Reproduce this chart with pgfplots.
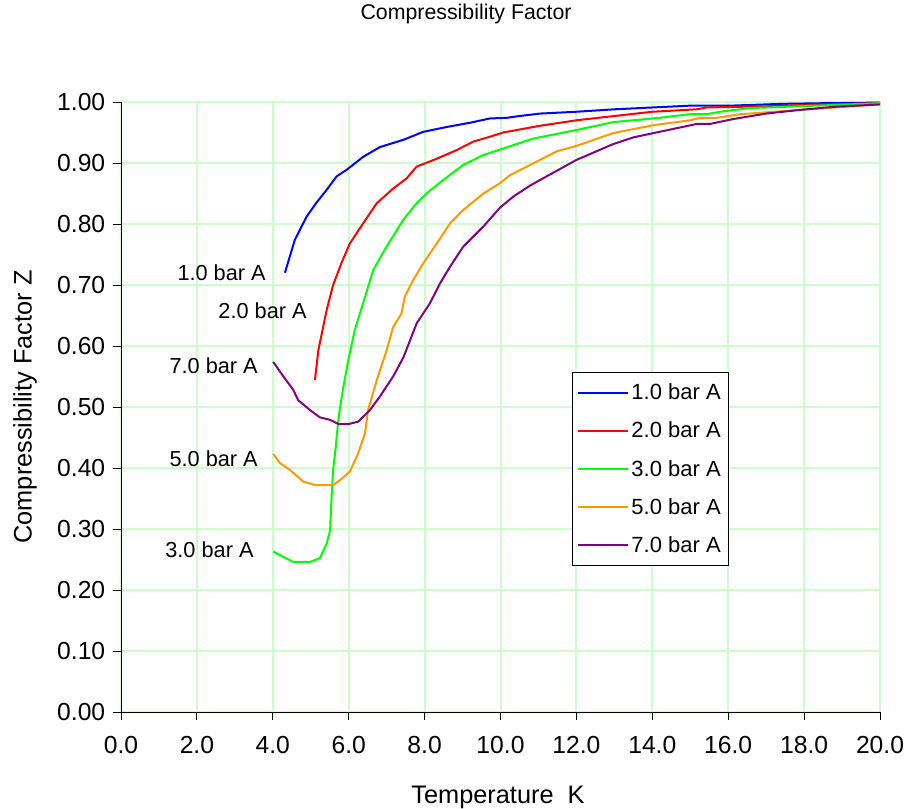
\documentclass[border=0pt]{standalone}
\usepackage{pgfplots}
\pgfplotsset{compat=1.18}
\usepackage{fontspec}
\setmainfont{Liberation Sans}
\definecolor{gridgreen}{RGB}{204,255,204}
\definecolor{cblue}{RGB}{0,0,255}
\definecolor{cred}{RGB}{255,0,0}
\definecolor{cgreen}{RGB}{0,255,0}
\definecolor{corange}{RGB}{255,153,0}
\definecolor{cpurple}{RGB}{128,0,128}
\begin{document}
\begin{tikzpicture}
\useasboundingbox (-90.75pt,-72.75pt) rectangle (591pt,534pt);
\begin{axis}[
  scale only axis,
  width=569.25pt, height=457.5pt,
  xmin=0, xmax=20, ymin=0, ymax=1,
  xtick={0,2,...,20}, ytick={0,0.1,...,1.0},
  grid=major,
  major grid style={gridgreen, line width=1.5pt},
  axis lines*=left,
  axis line style={black, line width=0.7pt},
  tick align=outside,
  major tick length=6pt,
  tick style={black, line width=0.7pt},
  /pgf/number format/assume math mode=true,
  xticklabel style={font=\fontsize{18.5}{20}\selectfont, yshift=-9pt, /pgf/number format/.cd, fixed, fixed zerofill, precision=1},
  yticklabel style={font=\fontsize{18.5}{20}\selectfont, xshift=-2.3pt, /pgf/number format/.cd, fixed, fixed zerofill, precision=2},
  xlabel={Temperature\ \ K},
  ylabel={Compressibility Factor Z},
  xlabel style={font=\fontsize{19}{22}\selectfont, at={(axis description cs:0.4967,0)}, anchor=center, yshift=-64pt},
  ylabel style={font=\fontsize{19}{22}\selectfont, at={(axis description cs:-0.1265,0.5)}, anchor=center},
  title={Compressibility Factor},
  title style={font=\fontsize{16}{18}\selectfont, at={(axis description cs:0.4546,1)}, anchor=center, yshift=60pt},
  legend style={at={(axis cs:11.876,0.5569)}, anchor=north west, draw=black, line width=0.7pt, font=\fontsize{16.5}{18}\selectfont, row sep=11.2pt, inner xsep=4pt, inner ysep=6.2pt},
  legend cell align=left,
  legend image code/.code={\draw[#1, line width=1.5pt] (0cm,0cm) -- (1.3cm,0cm);},
  every axis plot/.append style={line width=1.5pt},
  clip=false,
]
\addplot[cblue] coordinates {
(4.32,0.720) (4.58,0.774) (4.89,0.812) (5.15,0.835) (5.42,0.856) (5.68,0.878) (5.95,0.889)
(6.38,0.910) (6.82,0.926) (7.44,0.938) (7.96,0.951) (8.58,0.959) (9.20,0.966) (9.72,0.973)
(10.16,0.974) (10.5,0.977) (11.04,0.981) (12.0,0.984) (13.0,0.988) (14.0,0.991) (15.0,0.994)
(16.05,0.994) (17.45,0.997) (18.5,0.998) (20.0,0.999)};
\addlegendentry{1.0 bar A}
\addplot[cred] coordinates {
(5.11,0.544) (5.20,0.593) (5.42,0.659) (5.59,0.700) (5.81,0.736) (6.03,0.768) (6.38,0.801)
(6.74,0.834) (7.17,0.858) (7.53,0.875) (7.79,0.894) (8.32,0.907) (8.84,0.921) (9.28,0.935)
(9.72,0.943) (10.07,0.950) (10.6,0.956) (11.04,0.961) (12.0,0.970) (13.0,0.977) (14.0,0.984)
(15.17,0.988) (15.43,0.991) (17.0,0.993) (18.5,0.996) (20.0,0.998)};
\addlegendentry{2.0 bar A}
\addplot[cgreen] coordinates {
(4.01,0.263) (4.54,0.246) (4.98,0.246) (5.24,0.252) (5.42,0.276) (5.51,0.298) (5.55,0.353)
(5.59,0.397) (5.66,0.435) (5.70,0.462) (5.75,0.490) (5.86,0.533) (5.99,0.577) (6.16,0.626)
(6.38,0.670) (6.65,0.725) (7.00,0.763) (7.44,0.807) (7.79,0.834) (8.05,0.850) (8.49,0.872)
(9.02,0.897) (9.55,0.913) (9.99,0.922) (10.86,0.940) (12.0,0.954) (12.97,0.967) (14.03,0.973)
(15.0,0.980) (15.43,0.980) (15.78,0.984) (16.57,0.990) (17.89,0.993) (20.0,0.998)};
\addlegendentry{3.0 bar A}
\addplot[corange] coordinates {
(4.01,0.423) (4.19,0.408) (4.45,0.397) (4.80,0.378) (5.11,0.372) (5.59,0.372) (5.77,0.380)
(6.03,0.394) (6.25,0.424) (6.43,0.457) (6.51,0.495) (6.74,0.544) (7.00,0.593) (7.17,0.631)
(7.39,0.653) (7.48,0.681) (7.70,0.708) (7.97,0.736) (8.32,0.768) (8.67,0.801) (9.02,0.823)
(9.55,0.850) (9.99,0.867) (10.25,0.880) (11.04,0.905) (11.48,0.919) (12.0,0.928) (12.97,0.949)
(14.03,0.962) (15.0,0.970) (15.26,0.974) (15.69,0.974) (16.32,0.980) (17.0,0.983) (17.89,0.987)
(20.0,0.996)};
\addlegendentry{5.0 bar A}
\addplot[cpurple] coordinates {
(4.01,0.574) (4.28,0.550) (4.54,0.528) (4.67,0.511) (4.98,0.495) (5.24,0.483) (5.51,0.479)
(5.73,0.472) (5.99,0.472) (6.25,0.476) (6.56,0.495) (6.82,0.517) (7.17,0.550) (7.44,0.581)
(7.79,0.637) (8.14,0.670) (8.41,0.703) (8.67,0.730) (9.02,0.763) (9.55,0.796) (9.99,0.827)
(10.34,0.845) (10.78,0.863) (11.3,0.881) (12.0,0.905) (12.97,0.931) (13.5,0.942) (14.03,0.949)
(15.17,0.964) (15.52,0.964) (16.13,0.972) (17.0,0.981) (17.89,0.987) (18.77,0.992) (20.0,0.996)};
\addlegendentry{7.0 bar A}
\node[anchor=east, inner sep=0pt, font=\fontsize{16.3}{18}\selectfont] at (axis cs:3.82,0.7205) {1.0 bar A};
\node[anchor=east, inner sep=0pt, font=\fontsize{16.3}{18}\selectfont] at (axis cs:4.90,0.658) {2.0 bar A};
\node[anchor=east, inner sep=0pt, font=\fontsize{16.3}{18}\selectfont] at (axis cs:3.61,0.567) {7.0 bar A};
\node[anchor=east, inner sep=0pt, font=\fontsize{16.3}{18}\selectfont] at (axis cs:3.61,0.415) {5.0 bar A};
\node[anchor=east, inner sep=0pt, font=\fontsize{16.3}{18}\selectfont] at (axis cs:3.50,0.2652) {3.0 bar A};
\end{axis}
\end{tikzpicture}
\end{document}
